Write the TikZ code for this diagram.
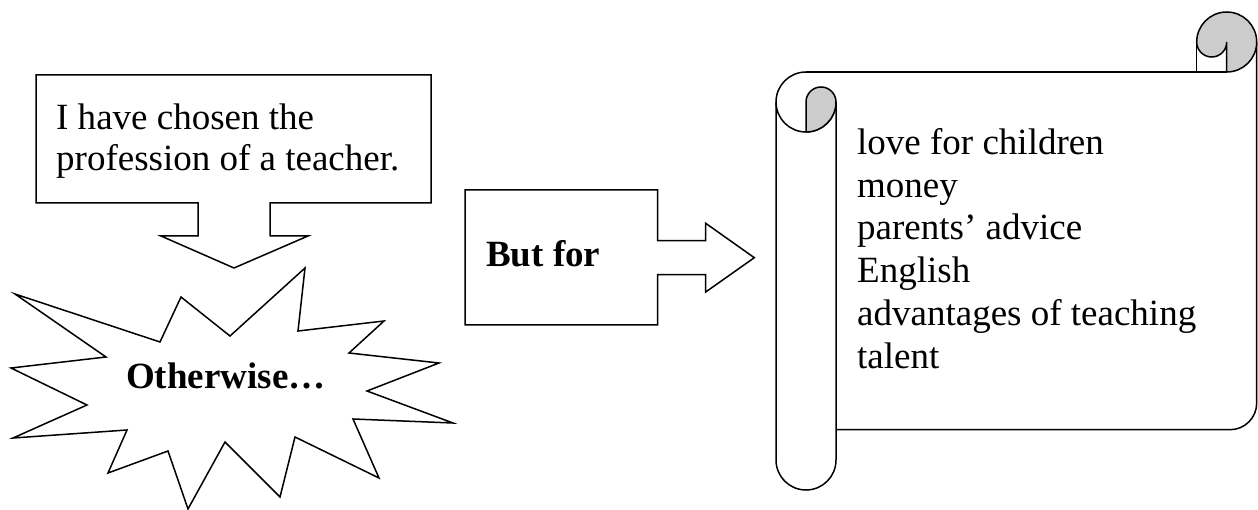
\documentclass[tikz,border=0pt]{standalone}
\usepackage{fontspec}
\setmainfont{Liberation Serif}
\definecolor{rollgray}{RGB}{204,204,204}
\begin{document}
\begin{tikzpicture}[x=1bp,y=-1bp,
  shape line/.style={draw=black,line width=1.5bp,line join=miter},
  txt/.style={inner sep=0pt,anchor=base west,font=\fontsize{37bp}{42bp}\selectfont},
  btxt/.style={txt,font=\fontsize{37bp}{42bp}\selectfont\bfseries}]
\useasboundingbox (0,0) rectangle (1258,510);
% callout with down arrow
\draw[shape line] (36,75) -- (431,75) -- (431,203) -- (270,203) -- (270,236) -- (308,236)
  -- (234,268) -- (161,236) -- (198,236) -- (198,203) -- (36,203) -- cycle;
\node[txt] (c1) at (56,130) {I have chosen the};
\node[txt] (c2) at (56,171) {profession of a teacher.};
% explosion
\draw[shape line] (305,268) -- (298,331) -- (384,321) -- (349,353) -- (439,363) -- (367,391)
  -- (453,423) -- (353,419) -- (379,478) -- (295,437) -- (280,497) -- (225,442)
  -- (188,509) -- (168,451) -- (108,473) -- (127,430) -- (13,438) -- (87,405)
  -- (11,368) -- (106,357) -- (15,294) -- (160,342) -- (181,297) -- (230,336) -- cycle;
\node[btxt] (ow) at (126,388) {Otherwise…};
% right arrow callout
\draw[shape line] (465,190) -- (657.7,190) -- (657.7,240.7) -- (705.7,240.7) -- (705.7,223.3)
  -- (754.3,257.7) -- (705.7,292) -- (705.7,274.7) -- (657.7,274.7) -- (657.7,325)
  -- (465,325) -- cycle;
\node[btxt] (bf) at (486,267) {But for};
% scroll
\draw[shape line] (806,72) -- (1226.7,72);
\draw[shape line] (1256.7,42) -- (1256.7,403) arc[start angle=0,end angle=90,radius=26.7] -- (836,429.7);
\draw[shape line] (836,102) -- (836,460) arc[start angle=0,end angle=180,radius=30] -- (776,102);
\draw[shape line] (806,72) arc[start angle=270,end angle=0,radius=30];
\draw[shape line,fill=rollgray] (806,102) -- (806,132) arc[start angle=90,end angle=0,radius=30]
  arc[start angle=0,end angle=-180,radius=15] -- cycle;
\draw[shape line,fill=rollgray] (1226.7,72) arc[start angle=90,end angle=-180,radius=30]
  arc[start angle=180,end angle=0,radius=15] -- cycle;
\draw[shape line] (1196.7,42) -- (1196.7,72);
\node[txt] (s1) at (857,154.3) {love for children};
\node[txt] (s2) at (857,197.1) {money};
\node[txt] (s3) at (857,239.9) {parents’ advice};
\node[txt] (s4) at (857,282.7) {English};
\node[txt] (s5) at (857,325.5) {advantages of teaching};
\node[txt] (s6) at (857,368.3) {talent};
\end{tikzpicture}
\end{document}
